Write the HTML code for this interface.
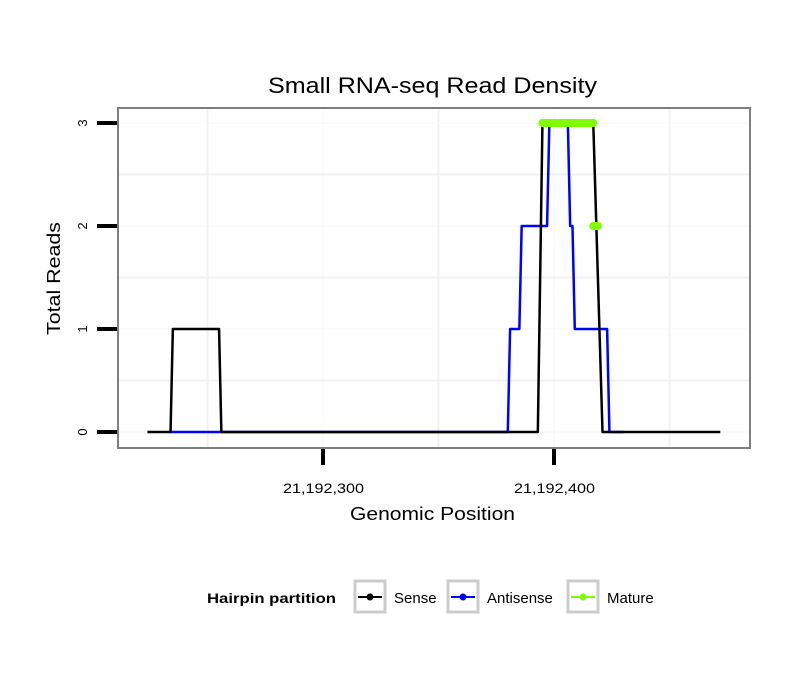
<!DOCTYPE html>
<html><head><meta charset="utf-8"><style>
body{margin:0;background:#fff;}
text{font-family:"Liberation Sans",sans-serif;}
</style></head><body>
<svg id="chart" width="810" height="690" xmlns="http://www.w3.org/2000/svg">
<rect width="810" height="690" fill="#fff"/>
<text x="268" y="93" font-size="22" textLength="329" lengthAdjust="spacingAndGlyphs">Small RNA-seq Read Density</text>
<g id="grid"></g>
<g id="series"></g>
<rect x="118" y="108" width="632" height="340" fill="none" stroke="#7f7f7f" stroke-width="2"/>
<g id="axes"></g>
<text x="350" y="520" font-size="18" textLength="165" lengthAdjust="spacingAndGlyphs">Genomic Position</text>
<text transform="translate(60,335) rotate(-90)" font-size="18" textLength="113" lengthAdjust="spacingAndGlyphs">Total Reads</text>
<g>
<text x="207" y="603" font-size="14" font-weight="bold" textLength="129" lengthAdjust="spacingAndGlyphs">Hairpin partition</text>
<g>
<rect x="355" y="581" width="30" height="31" fill="#fff" stroke="#cccccc" stroke-width="3"/>
<line x1="358" y1="597" x2="382" y2="597" stroke="#000" stroke-width="2"/><circle cx="370" cy="597" r="3.5" fill="#000"/>
<text x="394" y="603" font-size="15">Sense</text></g>
<g>
<rect x="448" y="581" width="30" height="31" fill="#fff" stroke="#cccccc" stroke-width="3"/>
<line x1="451" y1="597" x2="475" y2="597" stroke="#0000ff" stroke-width="2"/><circle cx="463" cy="597" r="3.5" fill="#0000ff"/>
<text x="487" y="603" font-size="15">Antisense</text></g>
<g>
<rect x="568" y="581" width="30" height="31" fill="#fff" stroke="#cccccc" stroke-width="3"/>
<line x1="571" y1="597" x2="595" y2="597" stroke="#7fff00" stroke-width="2"/><circle cx="583" cy="597" r="3.5" fill="#7fff00"/>
<text x="607" y="603" font-size="15">Mature</text></g>
</g>
</svg>
<script>
const base = 21192000;
const sensePos = [224,234,235,255,256,393,395,417,421,472];
const senseVal = [0,0,1,1,0,0,3,3,0,0];
const antiPos = [234,380,381,385,386,397,398,406,407,408,409,423,424,430];
const antiVal = [0,0,1,1,2,2,3,3,2,2,1,1,0,0];
const mature1Pos = [395,417];
const mature1Val = [3,3];
const mature2Pos = [417,419];
const mature2Val = [2,2];
const xTicks = [300,400];
const xTickLabels = ["21,192,300","21,192,400"];
const xMinor = [250,350,450];
const yTicks = [0,1,2,3];
const yMinor = [0.5,1.5,2.5];

const xs = p => 323 + (p - 300) * 2.31;
const ys = v => 432 - v * 103;
const NS = "http://www.w3.org/2000/svg";
function mk(tag, attrs, parent){const e=document.createElementNS(NS,tag);for(const k in attrs)e.setAttribute(k,attrs[k]);parent.appendChild(e);return e;}
const grid=document.getElementById('grid'), series=document.getElementById('series'), axes=document.getElementById('axes');
xMinor.forEach(p=>{const l=mk('line',{x1:xs(p),x2:xs(p),y1:109,y2:447,stroke:'#f2f2f2','stroke-width':2},grid);

});
xTicks.forEach(p=>{const l=mk('line',{x1:xs(p),x2:xs(p),y1:109,y2:447,stroke:'#f7f7f7','stroke-width':1},grid);

});
yMinor.forEach(v=>{const l=mk('line',{x1:119,x2:749,y1:ys(v),y2:ys(v),stroke:'#f2f2f2','stroke-width':2},grid);

});
yTicks.forEach(v=>{const l=mk('line',{x1:119,x2:749,y1:ys(v),y2:ys(v),stroke:'#f7f7f7','stroke-width':1},grid);

});
function path(pos,val,color,w,name,cap){
  const d=pos.map((p,i)=>(i?'L':'M')+xs(p)+','+ys(val[i])).join(' ');
  const e=mk('path',{d:d,fill:'none',stroke:color,'stroke-width':w,'stroke-linecap':cap||'butt','stroke-linejoin':'round'},series);
  
  
}
path(antiPos,antiVal,'#0000ff',2.5,'antisense-line');
path(sensePos,senseVal,'#000000',2.5,'sense-line');
path(mature1Pos,mature1Val,'#7fff00',8,'mature-line-top','round');
path(mature2Pos,mature2Val,'#7fff00',8,'mature-line-mid','round');
yTicks.forEach(v=>{
  const t=mk('line',{x1:97,x2:117,y1:ys(v),y2:ys(v),stroke:'#000','stroke-width':4},axes);
  
  
  const tx=mk('text',{transform:`translate(87,${ys(v)}) rotate(-90)`,'font-size':13,'text-anchor':'middle'},axes);
  tx.textContent=String(v);
  
  
});
xTicks.forEach((p,i)=>{
  const t=mk('line',{x1:xs(p),x2:xs(p),y1:449,y2:465,stroke:'#000','stroke-width':4},axes);
  
  
  const tx=mk('text',{x:xs(p)-40,y:493,'font-size':14,textLength:81,lengthAdjust:'spacingAndGlyphs'},axes);
  tx.textContent=xTickLabels[i];
  
  
});
</script>
</body></html>
